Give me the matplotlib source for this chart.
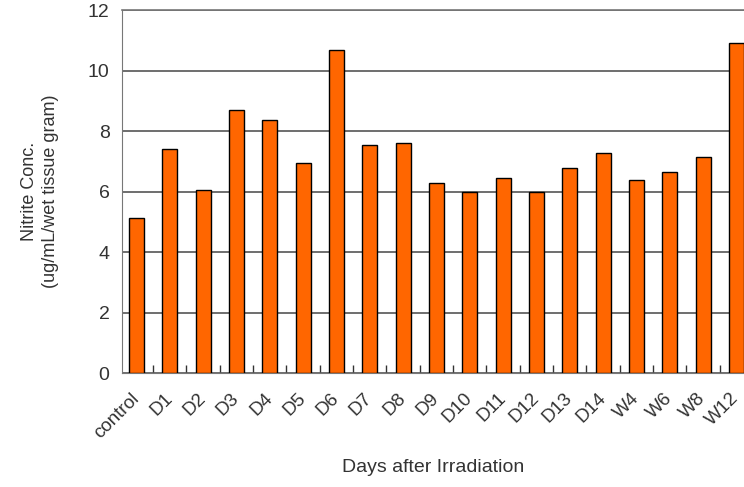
import matplotlib.pyplot as plt
import matplotlib.transforms as mtransforms
import numpy as np

plt.rcParams['font.family'] = ['Liberation Sans', 'DejaVu Sans']

# Days after irradiation and measured nitrite concentration
categories = ['control', 'D1', 'D2', 'D3', 'D4', 'D5', 'D6', 'D7', 'D8', 'D9',
              'D10', 'D11', 'D12', 'D13', 'D14', 'W4', 'W6', 'W8', 'W12']
nitrite = [5.13, 7.4, 6.07, 8.7, 8.37, 6.96, 10.68, 7.53, 7.61, 6.29,
           5.98, 6.45, 5.98, 6.78, 7.28, 6.4, 6.66, 7.13, 10.9]
y_ticks = [0, 2, 4, 6, 8, 10, 12]

text_color = '#333333'

fig = plt.figure(figsize=(7.44, 4.87), dpi=100)
ax = fig.add_axes([0.164, 0.234, 0.836, 0.745])

x = np.arange(len(categories))
ax.bar(x, nitrite, width=0.45, color='#ff6600', edgecolor='black',
       linewidth=1.0, zorder=3)

ax.set_ylim(0, 12)
ax.set_yticks(y_ticks)
ax.set_xlim(-0.435, 18.23)
ax.yaxis.grid(True, color='#555555', linewidth=1.2, zorder=0)

# ticks between bars on the x axis, no ticks on y
ax.set_xticks(x)
ax.set_xticklabels(categories, rotation=45, ha='right', rotation_mode='anchor',
                   fontsize=13.5, color=text_color)
ax.tick_params(axis='x', length=0, pad=12)
offset = mtransforms.ScaledTranslation(-6 / 100, 0, fig.dpi_scale_trans)
for lbl in ax.get_xticklabels():
    lbl.set_transform(lbl.get_transform() + offset)
ax.set_xticks(x[:-1] + 0.5, minor=True)
ax.tick_params(axis='x', which='minor', direction='in', length=6,
               color='#333333', width=1)
ax.tick_params(axis='y', length=0, pad=9, labelsize=14, labelcolor=text_color)

ax.spines['right'].set_visible(False)
ax.spines['top'].set_color('#777777')
ax.spines['left'].set_color('#777777')
ax.spines['bottom'].set_color('#777777')
ax.spines['top'].set_linewidth(1.2)

ax.set_xlabel('Days after Irradiation', fontsize=14, color=text_color, labelpad=13)
ax.set_ylabel('Nitrite Conc.\n(ug/mL/wet tissue gram)', fontsize=13,
              color=text_color, labelpad=21, linespacing=1.3)

plt.savefig('out.png', dpi=100)
